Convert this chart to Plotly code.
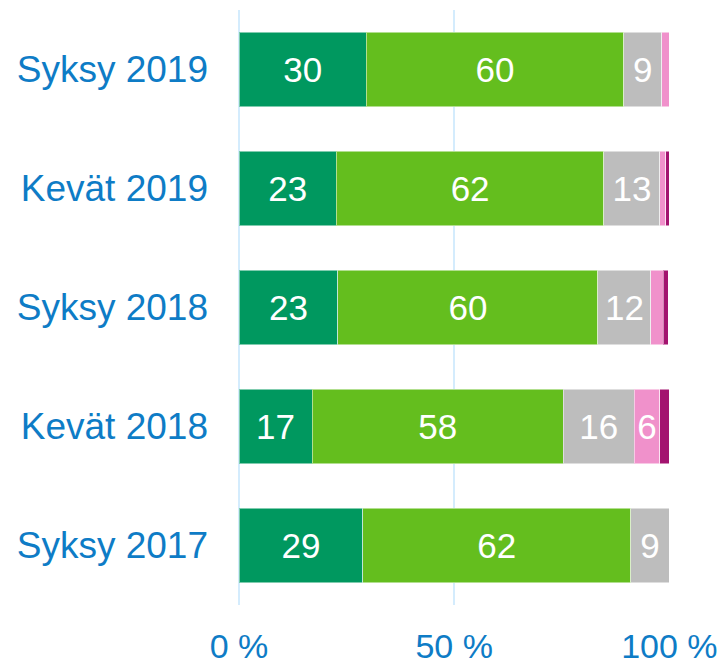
import plotly.graph_objects as go

categories = ["Syksy 2019", "Kevät 2019", "Syksy 2018", "Kevät 2018", "Syksy 2017"]
series_names = ["Sarja 1", "Sarja 2", "Sarja 3", "Sarja 4", "Sarja 5"]
s1 = [29.6, 22.6, 23.0, 17.0, 28.8]
s2 = [59.8, 62.2, 60.4, 58.4, 62.2]
s3 = [8.8, 13.0, 12.3, 16.4, 9.0]
s4 = [1.8, 1.4, 2.9, 6.0, 0.0]
s5 = [0.0, 0.8, 1.2, 2.2, 0.0]
colors = ["#00985F", "#64BE1E", "#BDBDBD", "#F091CB", "#A3136F"]
x_ticks = [0, 50, 100]
x_tick_labels = ["0 %", "50 %", "100 %"]

fig = go.Figure()
for name, vals, col in zip(series_names, [s1, s2, s3, s4, s5], colors):
    labels = [f"{round(v)}" if v >= 5 else "" for v in vals]
    fig.add_trace(go.Bar(
        y=categories, x=vals, name=name, orientation="h",
        marker=dict(color=col, line=dict(color="rgba(255,255,255,0.5)", width=1)),
        text=labels, textposition="inside", insidetextanchor="middle",
        textfont=dict(color="white", size=35, family="Liberation Sans, Arial"),
        hoverinfo="x+y+name",
    ))

fig.update_layout(
    barmode="stack",
    bargap=0.378,
    width=728, height=665,
    margin=dict(l=239, r=58, t=10, b=60, autoexpand=False),
    plot_bgcolor="white", paper_bgcolor="white",
    showlegend=False,
    font=dict(family="Liberation Sans, Arial", color="#0E7CC6"),
)
fig.update_xaxes(
    range=[0, 100.15], tickvals=x_ticks, ticktext=x_tick_labels,
    showgrid=True, gridcolor="#D4ECFD", gridwidth=2,
    zeroline=True, zerolinecolor="#D4ECFD", zerolinewidth=2,
    showline=False, ticks="", automargin=False,
    tickfont=dict(size=34, color="#0E7CC6"), ticklabelstandoff=18,
)
fig.update_yaxes(
    autorange="reversed", showgrid=False, zeroline=False, showline=False, ticks="",
    automargin=False,
    tickfont=dict(size=37, color="#0E7CC6"), ticklabelstandoff=30,
)
fig.write_html("out.html", config={"displayModeBar": False},
               post_script="document.body.style.margin='0';")
